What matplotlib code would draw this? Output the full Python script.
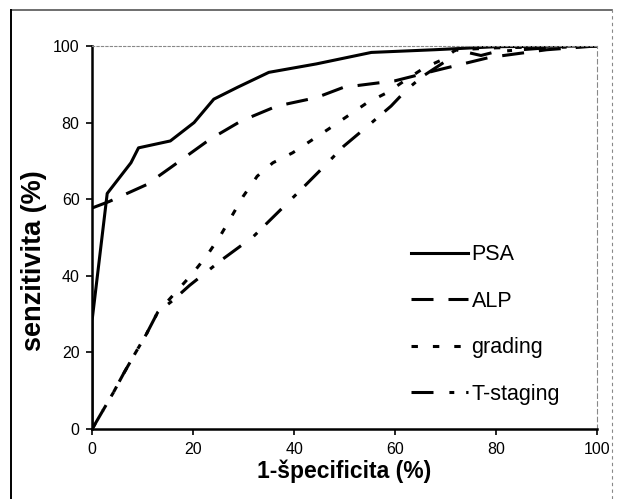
import matplotlib
matplotlib.use('Agg')
import matplotlib.pyplot as plt
from matplotlib.lines import Line2D

plt.rcParams['font.family'] = ['Liberation Sans', 'DejaVu Sans']

# ROC curves (x = 1-specificity %, y = sensitivity %)
psa_x = [0, 0, 3, 7.7, 9.2, 15.5, 20.2, 24.1, 28.8, 35, 44.4, 55.3, 67.8, 80, 100]
psa_y = [0, 28.3, 61.5, 69.5, 73.4, 75.2, 80, 86.1, 89.2, 93.1, 95.3, 98.3, 99, 99.8, 100]

alp_x = [0, 3.4, 10.8, 15.5, 23.3, 29.5, 36.6, 44.4, 49.8, 60, 67.8, 78.7, 90, 100]
alp_y = [57.7, 59.4, 63.8, 68.2, 75.6, 80.4, 84.3, 86.5, 89.2, 90.9, 93.5, 97, 99, 100]

grading_x = [0, 1.9, 4.2, 6.2, 8.5, 10.8, 13, 19.9, 22.8, 25.5, 27.8, 29.9, 32.7, 35.8,
             39.7, 46.7, 50.6, 54.5, 58.4, 62.3, 65.8, 69.5, 72, 80, 100]
grading_y = [0, 4.3, 9.5, 14.4, 19.7, 24.9, 30.5, 40.6, 45.4, 50.7, 55.9, 60.7, 66, 69.5,
             72.1, 78.2, 81.7, 85.2, 87.8, 91.3, 94.3, 96.5, 99, 99.5, 100]

tstaging_x = [0, 1.9, 4.2, 6.2, 8.5, 10.8, 13, 16, 19.3, 25.6, 31.9, 36.6, 41.3, 45.9,
              49.8, 54.5, 59.2, 62.3, 65.5, 70, 72, 77, 80, 90, 100]
tstaging_y = [0, 4.3, 9.5, 14.4, 19.7, 24.9, 30.5, 33.6, 37.5, 44.1, 50.2, 56.3, 62.4, 68.5,
              73.8, 79, 84.3, 88.6, 92.1, 96, 99, 97.5, 98.5, 99.5, 100]

fig = plt.figure(figsize=(6.22, 4.99), dpi=100)
ax = fig.add_axes([0.148, 0.140, 0.812, 0.768])

lw = 2.2
ax.plot(psa_x, psa_y, color='black', lw=lw, label='PSA', solid_joinstyle='round')
ax.plot(alp_x, alp_y, color='black', lw=lw, label='ALP', dashes=(7.2, 4.9))
ax.plot(grading_x, grading_y, color='black', lw=lw, label='grading', dashes=(2.1, 4.9))
ax.plot(tstaging_x, tstaging_y, color='black', lw=lw, label='T-staging',
        dashes=(7.2, 5.2, 1.6, 3.9))

ax.set_xlim(0, 100)
ax.set_ylim(0, 100)
ax.set_xticks(range(0, 101, 20))
ax.set_yticks(range(0, 101, 20))
ax.tick_params(direction='out', length=4, width=1.2, labelsize=11.5, pad=5)

ax.spines['left'].set_linewidth(1.8)
ax.spines['bottom'].set_linewidth(1.8)
ax.spines['top'].set_linewidth(0.8)
ax.spines['top'].set_color('#888888')
ax.spines['top'].set_linestyle((0, (2, 2)))
ax.spines['right'].set_linewidth(0.8)
ax.spines['right'].set_color('#888888')
ax.spines['right'].set_linestyle((0, (4, 3)))

ax.set_xlabel('1-špecificita (%)', fontsize=16.5, fontweight='bold', labelpad=2)
ax.set_ylabel('senzitivita (%)', fontsize=19.5, fontweight='bold')
ax.yaxis.set_label_coords(-0.09, 0.44)

leg = ax.legend(loc='upper left', bbox_to_anchor=(0.632, 0.482), frameon=False,
                fontsize=15.5, handlelength=2.65, handletextpad=0.15,
                labelspacing=1.18, borderpad=0, borderaxespad=0)

# outer frame of the scanned figure
fig.add_artist(Line2D([0.018, 0.984], [0.979, 0.979], color='#555555', lw=1.2))
fig.add_artist(Line2D([0.018, 0.018], [0.0, 0.979], color='black', lw=1.4))
fig.add_artist(Line2D([0.984, 0.984], [0.0, 0.979], color='#888888', lw=0.8,
                      linestyle=(0, (3, 3))))

fig.savefig('out.png', dpi=100, facecolor='white')
